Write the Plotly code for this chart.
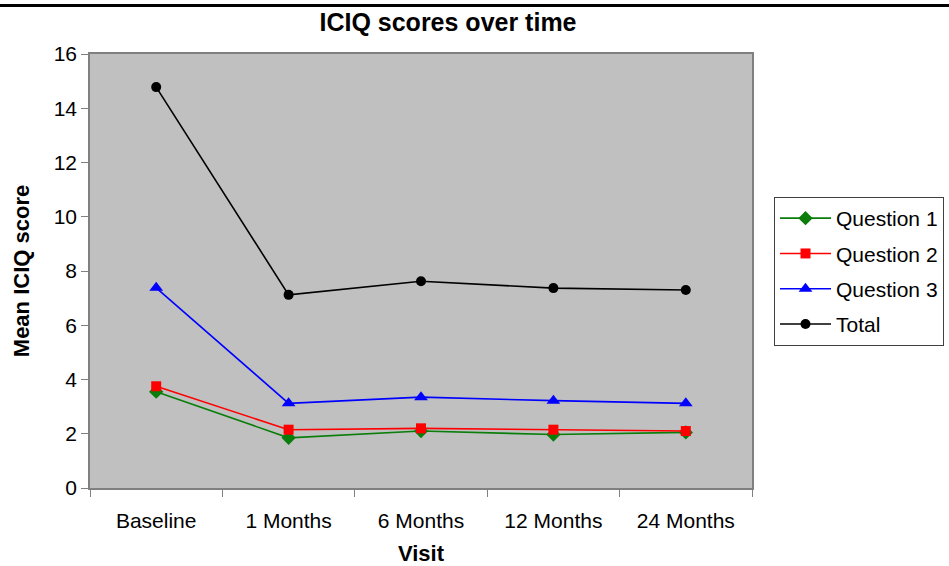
import plotly.graph_objects as go

visits = ["Baseline", "1 Months", "6 Months", "12 Months", "24 Months"]
q1 = [3.55, 1.85, 2.1, 1.97, 2.05]
q2 = [3.75, 2.15, 2.2, 2.15, 2.1]
q3 = [7.38, 3.12, 3.35, 3.22, 3.12]
total = [14.78, 7.12, 7.62, 7.37, 7.3]

FONT = "Arial, Liberation Sans, sans-serif"
W, H = 949, 566

fig = go.Figure()
series = [
    ("Question 1", q1, "#0a7d0a", "diamond", 11),
    ("Question 2", q2, "#ff0000", "square", 10),
    ("Question 3", q3, "#0000ff", "triangle-up", 12),
    ("Total", total, "#000000", "circle", 10),
]
for name, vals, col, sym, sz in series:
    fig.add_trace(go.Scatter(
        x=visits, y=vals, name=name, mode="lines+markers",
        line=dict(color=col, width=1.6),
        marker=dict(symbol=sym, size=sz, color=col),
        legendgroup=name,
    ))

L, T, R, B = 90, 54, 752, 488
pw, ph = R - L, B - T

fig.update_layout(
    width=W, height=H,
    margin=dict(l=L, r=W - R, t=T, b=H - B, autoexpand=False),
    paper_bgcolor="white", plot_bgcolor="#c0c0c0",
    font=dict(family=FONT, color="black", size=20),
    title=dict(text="<b>ICIQ scores over time</b>", x=448/W, xref="container",
               xanchor="center", y=1-22/H, yref="container", yanchor="middle",
               font=dict(size=25, family=FONT)),
    showlegend=True,
    legend=dict(x=774/W, xref="container", xanchor="left",
                y=1-197/H, yref="container", yanchor="top",
                bgcolor="white", bordercolor="#404040", borderwidth=1,
                font=dict(size=21, family=FONT), tracegroupgap=5,
                traceorder="grouped", itemwidth=51),
    xaxis=dict(range=[-0.5, 4.5], showgrid=False, zeroline=False, automargin=False,
               showline=True, linecolor="#808080", linewidth=1.5, mirror=True,
               ticks="outside", ticklen=7, tickcolor="#808080", tickson="boundaries",
               tickfont=dict(size=21), ticklabelstandoff=13,
               title=dict(text="<b>Visit</b>", font=dict(size=22), standoff=18)),
    yaxis=dict(range=[0, 16], dtick=2, showgrid=False, zeroline=False, automargin=False,
               showline=True, linecolor="#808080", linewidth=1.5, mirror=True,
               ticks="outside", ticklen=7, tickcolor="#808080",
               tickfont=dict(size=21),
               title=dict(text="<b>Mean ICIQ score</b>", font=dict(size=22), standoff=18)),
    shapes=[dict(type="line", xref="paper", yref="paper",
                 x0=-L/pw - 0.05, x1=(W - L)/pw + 0.05,
                 y0=1 + (T - 5.5)/ph, y1=1 + (T - 5.5)/ph,
                 line=dict(color="black", width=3))],
)

fig.write_html("out.html", config={"displayModeBar": False},
               post_script="document.body.style.margin='0';document.body.style.overflow='hidden';")
